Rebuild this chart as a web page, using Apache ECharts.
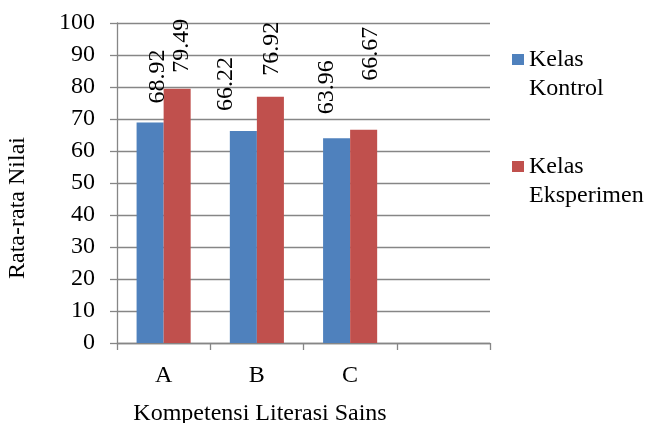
<!DOCTYPE html>
<html>
<head>
<meta charset="utf-8">
<script src="https://cdn.jsdelivr.net/npm/echarts@6/dist/echarts.min.js"></script>
<style>html,body{margin:0;padding:0;background:#fff;}#c{width:646px;height:423px;}</style>
</head>
<body>
<div id="c"></div>
<script>
const categories = ['A', 'B', 'C', ''];
const kontrol = [68.92, 66.22, 63.96, null];
const eksperimen = [79.49, 76.92, 66.67, null];
const yTicks = [0, 10, 20, 30, 40, 50, 60, 70, 80, 90, 100];

const FONT = "'Liberation Serif', 'Times New Roman', serif";
const FS = 24;
const chart = echarts.init(document.getElementById('c'));

// label nudges (in the rotated label frame: [along text = up, across = right])
const kontrolNudge = [[3, 8], [4, -18], [8, -9.5]];
const eksperimenNudge = [[0, 5], [5, 1.5], [33, 7]];

function build(vals, nudges) {
  return vals.map((v, i) => {
    if (v === null) return '-';
    const n = nudges[i] || [0, 0];
    return { value: v, label: { offset: n } };
  });
}

const labelBase = {
  show: true, position: 'top', rotate: 90, align: 'left', verticalAlign: 'middle',
  distance: 16, fontFamily: FONT, fontSize: FS, color: '#000',
  formatter: p => p.value.toFixed(2)
};

chart.setOption({
  animation: false,
  backgroundColor: '#fff',
  textStyle: { fontFamily: FONT },
  grid: { left: 117, right: 156, top: 23, bottom: 80, containLabel: false, outerBoundsMode: 'none' },
  legend: {
    orient: 'vertical', left: 507, top: 11, itemWidth: 12, itemHeight: 11, itemGap: 20,
    icon: 'rect',
    formatter: n => '\u00a0\n' + n.replace(' ', '\n'),
    textStyle: { fontFamily: FONT, fontSize: FS, color: '#000', lineHeight: 29 },
    data: ['Kelas Kontrol', 'Kelas Eksperimen']
  },
  xAxis: {
    type: 'category', data: categories,
    name: 'Kompetensi Literasi Sains', nameLocation: 'middle', nameGap: 59,
    nameTextStyle: { fontFamily: FONT, fontSize: FS, color: '#000', padding: [0, 87, 0, 0] },
    axisLine: { lineStyle: { color: '#868686', width: 1.3 } },
    axisTick: { show: true, length: 7, alignWithLabel: false, lineStyle: { color: '#868686', width: 1.3 } },
    axisLabel: { fontFamily: FONT, fontSize: FS, color: '#000', margin: 21 },
    splitLine: { show: false }
  },
  yAxis: {
    type: 'value', min: 0, max: 100, interval: 10,
    name: 'Rata-rata Nilai', nameLocation: 'middle', nameGap: 87, nameRotate: 90,
    nameTextStyle: { fontFamily: FONT, fontSize: FS, color: '#000', padding: [0, 50, 0, 0] },
    axisLine: { show: true, lineStyle: { color: '#868686', width: 1.3 } },
    axisTick: { show: true, length: 7, lineStyle: { color: '#868686', width: 1.3 } },
    axisLabel: { fontFamily: FONT, fontSize: FS, color: '#000', margin: 22,
      formatter: v => yTicks.includes(v) ? String(v) : '' },
    splitLine: { show: true, lineStyle: { color: '#868686', width: 1.3 } }
  },
  series: [
    { name: 'Kelas Kontrol', type: 'bar', data: build(kontrol, kontrolNudge), barGap: '0%', barCategoryGap: '42%',
      itemStyle: { color: '#4F81BD' }, label: labelBase },
    { name: 'Kelas Eksperimen', type: 'bar', data: build(eksperimen, eksperimenNudge), barGap: '0%', barCategoryGap: '42%',
      itemStyle: { color: '#C0504D' }, label: labelBase }
  ]
});
</script>
</body>
</html>
